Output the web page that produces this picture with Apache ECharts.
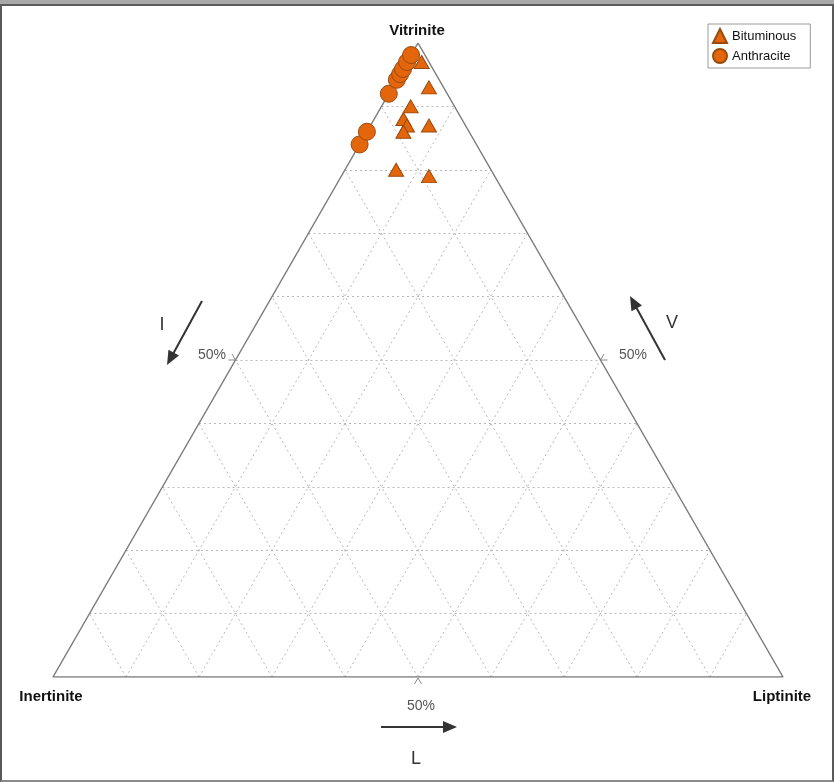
<!DOCTYPE html>
<html>
<head>
<meta charset="utf-8">
<script src="https://cdn.jsdelivr.net/npm/echarts@6/dist/echarts.min.js"></script>
<style>
  html, body { margin: 0; padding: 0; background: #ffffff; }
  #frame {
    position: absolute; left: 0; top: 0; width: 834px; height: 782px;
    box-sizing: border-box;
    border-top: 4px solid #a8a8a8;
  }
  #panel {
    position: absolute; left: 0; top: 0; right: 0; bottom: 0;
    border: 2px solid #5a5a5a; border-bottom-color: #8a8a8a; background: #fff;
  }
  #chart { position: absolute; left: 0; top: 0; width: 834px; height: 782px; }
</style>
</head>
<body>
<div id="frame"><div id="panel"></div></div>
<div id="chart"></div>
<script>
// Maceral composition (percent): Vitrinite, Inertinite, Liptinite
const bituminousV = [97, 93, 90, 88, 87, 86, 87, 80, 79];
const bituminousI = [1, 2, 6, 8, 8, 9, 5, 13, 9];
const bituminousL = [2, 5, 4, 4, 5, 5, 8, 7, 12];

const anthraciteV = [84, 86, 92, 94.2, 95.1, 95.9, 97, 98.1];
const anthraciteI = [16, 14, 8, 5.8, 4.9, 4.1, 3, 1.9];
const anthraciteL = [0, 0, 0, 0, 0, 0, 0, 0];

const seriesNames = ['Bituminous', 'Anthracite'];
const cornerLabels = ['Vitrinite', 'Inertinite', 'Liptinite'];
const gridSteps = [10, 20, 30, 40, 50, 60, 70, 80, 90];
const tickLabel = '50%';

// ternary (V, I, L) -> cartesian (x along base, y = V fraction)
function tern(v, i, l) {
  const s = v + i + l;
  const V = v / s, L = l / s;
  return [L + V / 2, V];
}

function toPoints(V, I, L) {
  return V.map((v, k) => tern(v, I[k], L[k]));
}

// dotted 10% grid lines
const gridLines = [];
gridSteps.forEach(p => {
  const q = 100 - p;
  gridLines.push({ coords: [tern(p, q, 0), tern(p, 0, q)] });   // constant V
  gridLines.push({ coords: [tern(0, q, p), tern(q, 0, p)] });   // constant L
  gridLines.push({ coords: [tern(0, p, q), tern(q, p, 0)] });   // constant I
});

const outline = [tern(100, 0, 0), tern(0, 100, 0), tern(0, 0, 100), tern(100, 0, 0)];

const fill = '#E3660C';
const stroke = '#9A4A0E';
const font = "'Liberation Sans', Arial, sans-serif";

function arrow(x1, y1, x2, y2) {
  const dx = x2 - x1, dy = y2 - y1;
  const len = Math.hypot(dx, dy);
  const ux = dx / len, uy = dy / len;
  const hl = 14, hw = 6;
  const bx = x2 - ux * hl, by = y2 - uy * hl;
  return [
    { type: 'line', shape: { x1: x1, y1: y1, x2: bx + ux * 2, y2: by + uy * 2 },
      style: { stroke: '#333', lineWidth: 2 }, silent: true },
    { type: 'polygon', shape: { points: [[x2, y2], [bx - uy * hw, by + ux * hw], [bx + uy * hw, by - ux * hw]] },
      style: { fill: '#333' }, silent: true }
  ];
}

function chevron(cx, cy, a1, a2) {
  const r = 7;
  const d1 = a1 * Math.PI / 180, d2 = a2 * Math.PI / 180;
  return { type: 'polyline', silent: true,
    shape: { points: [[cx + r * Math.cos(d1), cy + r * Math.sin(d1)], [cx, cy], [cx + r * Math.cos(d2), cy + r * Math.sin(d2)]] },
    style: { stroke: '#8a8a8a', lineWidth: 1, fill: null } };
}

function label(text, x, y, opts) {
  return Object.assign({ type: 'text', silent: true, x: x, y: y,
    style: Object.assign({ text: text, fill: '#111', font: '15px ' + font, textAlign: 'center', textVerticalAlign: 'middle' }, opts || {}) });
}

const chart = echarts.init(document.getElementById('chart'), null, { renderer: 'canvas' });

chart.setOption({
  backgroundColor: 'transparent',
  animation: false,
  grid: { left: 53, top: 43, width: 730, height: 634 },
  xAxis: { type: 'value', min: 0, max: 1, show: false },
  yAxis: { type: 'value', min: 0, max: 1, show: false },
  legend: {
    data: seriesNames,
    orient: 'vertical',
    left: 708, top: 24,
    padding: [4, 14, 4, 4],
    itemWidth: 14, itemHeight: 14, itemGap: 4,
    borderColor: '#9a9a9a', borderWidth: 1,
    textStyle: { fontSize: 13, color: '#111', fontFamily: font }
  },
  graphic: [
    label(cornerLabels[0], 417, 31, { font: 'bold 15px ' + font }),
    label(cornerLabels[1], 51, 697, { font: 'bold 15px ' + font }),
    label(cornerLabels[2], 782, 697, { font: 'bold 15px ' + font }),
    label(tickLabel, 212, 355, { fill: '#555', font: '14px ' + font }),
    label(tickLabel, 633, 355, { fill: '#555', font: '14px ' + font }),
    label(tickLabel, 421, 706, { fill: '#555', font: '14px ' + font }),
    label('I', 162, 325, { fill: '#333', font: '18px ' + font }),
    label('V', 672, 323, { fill: '#333', font: '18px ' + font }),
    label('L', 416, 759, { fill: '#333', font: '18px ' + font }),
    chevron(235.5, 360, 180, 240),
    chevron(600.5, 360, 0, 300),
    chevron(418, 678, 60, 120),
    ...arrow(202, 301, 167, 365),
    ...arrow(665, 360, 630, 296),
    ...arrow(381, 727, 457, 727)
  ],
  series: [
    {
      type: 'lines', coordinateSystem: 'cartesian2d', silent: true, z: 1,
      data: gridLines,
      lineStyle: { color: '#b8b8b8', width: 1, type: [2, 3], opacity: 1 }
    },
    {
      type: 'line', silent: true, z: 2, symbol: 'none',
      data: outline,
      lineStyle: { color: '#7c7c7c', width: 1.5 }
    },
    {
      name: seriesNames[0], type: 'scatter', z: 3,
      symbol: 'triangle', symbolSize: [15, 13],
      itemStyle: { color: fill, borderColor: stroke, borderWidth: 1, opacity: 1 },
      data: toPoints(bituminousV, bituminousI, bituminousL)
    },
    {
      name: seriesNames[1], type: 'scatter', z: 4,
      symbol: 'circle', symbolSize: 17,
      itemStyle: { color: fill, borderColor: stroke, borderWidth: 1, opacity: 1 },
      data: toPoints(anthraciteV, anthraciteI, anthraciteL)
    }
  ]
});
</script>
</body>
</html>
